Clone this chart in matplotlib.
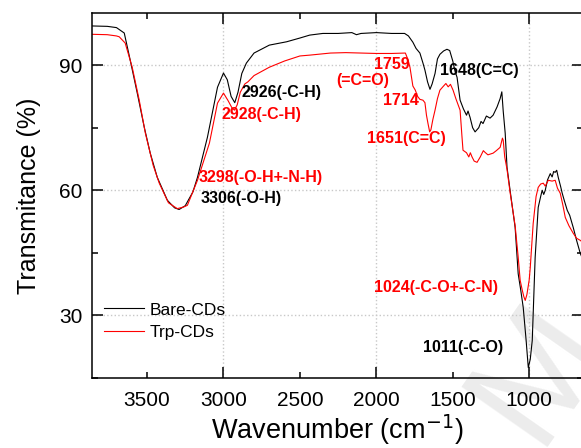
import matplotlib
matplotlib.use('Agg')
import matplotlib.pyplot as plt
from matplotlib.ticker import MultipleLocator, FormatStrFormatter, NullFormatter

plt.rcParams['font.family'] = ['Liberation Sans', 'DejaVu Sans']

# FTIR spectra, wavenumber (cm-1) vs transmittance (%)
bare_wn = [3866, 3760, 3700, 3649, 3610, 3564, 3518, 3479, 3433, 3367, 3320, 3290, 3250, 3200,
           3170, 3105, 3039, 3000, 2975, 2950, 2926, 2905, 2880, 2850, 2800, 2700, 2587, 2500,
           2436, 2350, 2250, 2160, 2130, 2100, 2000, 1900, 1815, 1790, 1761, 1740, 1715, 1695,
           1682, 1665, 1649, 1635, 1616, 1600, 1584, 1560, 1538, 1520, 1500, 1485, 1472, 1452,
           1430, 1410, 1400, 1387, 1370, 1354, 1330, 1315, 1302, 1280, 1256, 1236, 1210, 1190,
           1179, 1170, 1157, 1145, 1125, 1092, 1072, 1055, 1039, 1020, 1006, 993, 980, 961, 941,
           925, 915, 905, 895, 880, 862, 850, 840, 830, 820, 810, 795, 784, 770, 751, 735, 712,
           690, 666, 650]
bare_t = [99.4, 99.3, 99.0, 97.7, 91.2, 83.3, 75.1, 68.9, 63.1, 57.6, 55.8, 55.4, 56.3, 59.6,
          63.1, 72.7, 84.7, 88.1, 86.5, 82.5, 81.0, 83.5, 88.0, 90.5, 92.9, 94.8, 95.6, 96.5,
          97.2, 97.6, 97.6, 97.8, 97.3, 97.6, 97.8, 97.6, 97.6, 97.0, 95.5, 94.0, 92.9, 90.5,
          88.8, 86.0, 84.2, 85.5, 88.0, 91.5, 92.6, 93.4, 93.8, 93.5, 91.0, 88.5, 87.1, 81.6,
          79.5, 78.0, 79.0, 77.5, 75.0, 74.0, 75.0, 76.5, 76.0, 77.8, 77.3, 78.0, 80.0, 82.0,
          83.6, 79.0, 73.7, 65.5, 60.0, 51.1, 40.0, 36.0, 31.9, 24.0, 17.5, 19.5, 24.0, 43.9, 55.9,
          58.5, 60.0, 59.0, 60.0, 62.5, 64.0, 63.2, 64.5, 64.3, 64.8, 63.1, 61.0, 59.3, 57.5, 55.2,
          54.0, 51.1, 48.0, 44.9, 43.5]

trp_wn = [3866, 3760, 3700, 3682, 3643, 3597, 3551, 3511, 3460, 3420, 3360, 3302, 3260, 3236,
          3170, 3092, 3039, 3000, 2970, 2945, 2928, 2910, 2890, 2860, 2840, 2800, 2700, 2600,
          2500, 2436, 2300, 2200, 2100, 2000, 1900, 1810, 1795, 1780, 1761, 1745, 1730, 1715,
          1695, 1682, 1672, 1662, 1651, 1643, 1630, 1616, 1600, 1584, 1560, 1545, 1530, 1515,
          1498, 1480, 1452, 1440, 1433, 1410, 1395, 1385, 1374, 1360, 1341, 1320, 1300, 1289,
          1270, 1236, 1215, 1190, 1175, 1170, 1160, 1145, 1125, 1092, 1072, 1059, 1045, 1035,
          1026, 1015, 1000, 993, 974, 955, 941, 925, 908, 895, 875, 850, 830, 815, 797, 780,
          764, 740, 712, 690, 666, 650]
trp_t = [97.4, 97.3, 97.0, 96.8, 95.3, 89.5, 81.6, 73.7, 66.0, 61.7, 57.0, 55.6, 56.0, 56.4,
         62.4, 71.3, 80.9, 83.3, 81.5, 79.8, 79.2, 80.5, 83.5, 85.5, 86.0, 87.5, 89.5, 91.0,
         92.2, 92.4, 92.9, 93.0, 92.9, 92.8, 92.8, 92.9, 91.5, 89.5, 85.0, 84.0, 82.5, 81.8,
         81.6, 81.0, 78.0, 76.0, 74.0, 74.5, 77.0, 79.2, 82.0, 84.0, 85.0, 85.6, 84.8, 85.4,
         84.0, 82.0, 79.2, 73.0, 69.6, 69.0, 68.0, 69.0, 68.0, 67.0, 66.7, 68.0, 69.5, 69.1,
         68.5, 68.9, 69.5, 70.3, 72.5, 72.0, 68.0, 65.0, 59.5, 51.5, 44.0, 38.4, 36.0, 34.5,
         33.6, 35.0, 38.5, 41.5, 52.0, 58.5, 60.7, 61.5, 61.7, 61.0, 62.4, 62.2, 62.4, 60.5,
         59.3, 56.5, 53.5, 51.5, 49.7, 48.5, 48.0, 47.5]

# peak labels: text, wavenumber, transmittance, colour
peak_labels = [
    ('2926(-C-H)', 2882, 83.5, 'black'),
    ('2928(-C-H)', 3013, 78.1, 'red'),
    ('3298(-O-H+-N-H)', 3164, 63.1, 'red'),
    ('3306(-O-H)', 3151, 58.0, 'black'),
    ('1759', 2016, 90.2, 'red'),
    ('(=C=O)', 2259, 86.4, 'red'),
    ('1714', 1957, 81.6, 'red'),
    ('1651(C=C)', 2062, 72.5, 'red'),
    ('1648(C=C)', 1584, 88.6, 'black'),
    ('1024(-C-O+-C-N)', 2016, 36.8, 'red'),
    ('1011(-C-O)', 1697, 22.2, 'black'),
]

fig = plt.figure(figsize=(5.81, 4.48), dpi=100)
ax = fig.add_axes([92 / 581, 70 / 448, 491 / 581, 365 / 448])
ax.patch.set_alpha(0)

# faint diagonal watermark letter, kept behind the axes
fig.text(540 / 581, 75 / 448, 'M', fontsize=110, color='#ececec', rotation=55,
         ha='center', va='center', zorder=-1)

ax.plot(bare_wn, bare_t, color='black', lw=0.8, label='Bare-CDs')
ax.plot(trp_wn, trp_t, color='red', lw=0.8, label='Trp-CDs')

for text, x, y, c in peak_labels:
    ax.text(x, y, text, color=c, fontsize=11.5, fontweight='bold', ha='left', va='center')

ax.set_xlim(3860, 648)
ax.set_ylim(15, 102.5)

ax.xaxis.set_major_locator(MultipleLocator(1000))
ax.xaxis.set_minor_locator(MultipleLocator(500))
ax.xaxis.set_major_formatter(FormatStrFormatter('%d'))
ax.xaxis.set_minor_formatter(FormatStrFormatter('%d'))
ax.yaxis.set_major_locator(MultipleLocator(30))
ax.yaxis.set_minor_locator(MultipleLocator(15))
ax.yaxis.set_minor_formatter(NullFormatter())

ax.tick_params(which='both', direction='in', top=True, right=True, labelsize=15, width=1.1)
ax.tick_params(which='major', length=8)
ax.tick_params(which='minor', length=4)
ax.tick_params(axis='x', which='both', pad=9)
ax.tick_params(axis='y', which='both', pad=7)

ax.grid(True, which='major', color='#c8c8c8', linestyle=':', linewidth=1)
for s in ax.spines.values():
    s.set_linewidth(1.1)

ax.set_xlabel('Wavenumber (cm$^{-1}$)', fontsize=19.5, labelpad=2)
ax.set_ylabel('Transmitance (%)', fontsize=18, labelpad=13)

ax.legend(loc='upper left', bbox_to_anchor=(-0.008, 0.25), frameon=False, fontsize=12.5,
          handlelength=2.3, handletextpad=0.35, labelspacing=0.4)

fig.savefig('out.png', dpi=100)
